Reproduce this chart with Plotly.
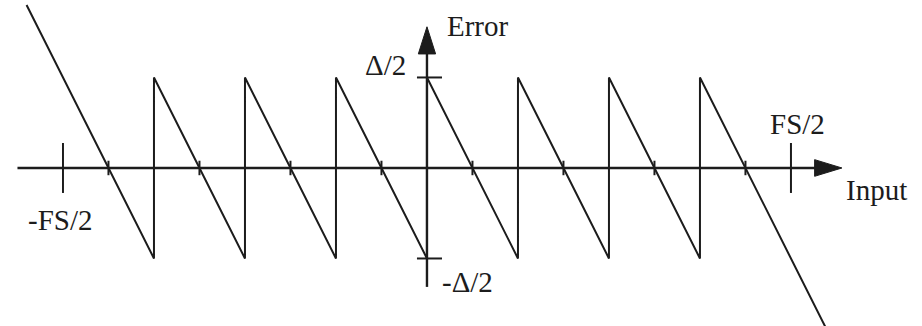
import plotly.graph_objects as go

# Quantization error of a 3-bit mid-rise quantizer (input in LSB units)
input_pts = [-4.4, -3, -3, -2, -2, -1, -1, 0, 0, 1, 1, 2, 2, 3, 3, 4.4]
error_pts = [0.9, -0.5, 0.5, -0.5, 0.5, -0.5, 0.5, -0.5, 0.5, -0.5, 0.5, -0.5, 0.5, -0.5, 0.5, -0.9]

# Code transition points (zero crossings of the error)
transition_pts = [-3.5, -2.5, -1.5, -0.5, 0.5, 1.5, 2.5, 3.5]

# Full-scale markers and error bounds
fs_half = 4
delta_half = 0.5

# Axis extents
x_axis_start, x_axis_end = -4.5, 4.56
y_axis_start, y_axis_end = -0.657, 0.78

INK = "#1c1c1c"
FONT = dict(family="Liberation Serif, Times New Roman, serif", size=29, color=INK)

fig = go.Figure()

# Sawtooth error curve
fig.add_trace(go.Scatter(x=input_pts, y=error_pts, mode="lines",
                         line=dict(color=INK, width=2), hoverinfo="skip"))

shapes = []
# Horizontal (Input) axis with arrowhead
shapes.append(dict(type="line", x0=x_axis_start, x1=x_axis_end - 0.25, y0=0, y1=0,
                   line=dict(color=INK, width=2.4)))
shapes.append(dict(type="path",
                   path=f"M {x_axis_end} 0 L {x_axis_end - 0.3} 0.046 L {x_axis_end - 0.3} -0.046 Z",
                   fillcolor=INK, line=dict(color=INK, width=1)))
# Vertical (Error) axis with arrowhead
shapes.append(dict(type="line", x0=0, x1=0, y0=y_axis_start, y1=y_axis_end - 0.12,
                   line=dict(color=INK, width=2.4)))
shapes.append(dict(type="path",
                   path=f"M 0 {y_axis_end} L -0.095 {y_axis_end - 0.15} L 0.095 {y_axis_end - 0.15} Z",
                   fillcolor=INK, line=dict(color=INK, width=1)))
# +/- delta/2 ticks on the error axis
for yv in (delta_half, -delta_half):
    shapes.append(dict(type="line", x0=-0.11, x1=0.165, y0=yv, y1=yv,
                       line=dict(color=INK, width=2)))
# +/- FS/2 ticks on the input axis
for xv in (-fs_half, fs_half):
    shapes.append(dict(type="line", x0=xv, x1=xv, y0=-0.138, y1=0.138,
                       line=dict(color=INK, width=2)))
# small ticks at code transitions
for xv in transition_pts:
    shapes.append(dict(type="line", x0=xv, x1=xv, y0=-0.04, y1=0.04,
                       line=dict(color=INK, width=2)))

annotations = [
    dict(x=0.56, y=0.785, text="Error"),
    dict(x=-0.46, y=0.57, text="\u0394/2"),
    dict(x=0.45, y=-0.63, text="-\u0394/2"),
    dict(x=fs_half + 0.07, y=0.245, text="FS/2"),
    dict(x=4.94, y=-0.12, text="Input"),
    dict(x=-4.03, y=-0.29, text="-FS/2"),
]
for a in annotations:
    a.update(xref="x", yref="y", showarrow=False, xanchor="center", yanchor="middle",
             font=FONT)

fig.update_layout(
    width=922, height=326,
    margin=dict(l=0, r=0, t=0, b=0),
    paper_bgcolor="white", plot_bgcolor="white",
    showlegend=False,
    shapes=shapes, annotations=annotations,
    xaxis=dict(range=[-4.692, 5.44], visible=False, showgrid=False, zeroline=False, fixedrange=True),
    yaxis=dict(range=[-0.873, 0.928], visible=False, showgrid=False, zeroline=False, fixedrange=True),
)

fig.write_html("out.html")
